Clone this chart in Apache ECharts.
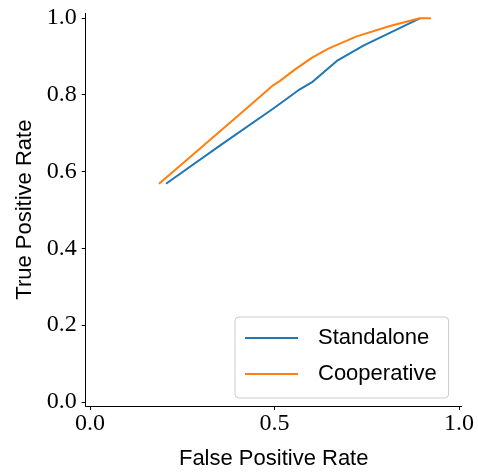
<!DOCTYPE html>
<html>
<head>
<meta charset="utf-8">
<script src="https://cdn.jsdelivr.net/npm/echarts@6/dist/echarts.min.js"></script>
<style>
html,body{margin:0;padding:0;background:#fff;}
#chart{width:478px;height:475px;}
</style>
</head>
<body>
<div id="chart"></div>
<script>
var standaloneFpr = [0.206, 0.350, 0.497, 0.564, 0.601, 0.669, 0.741, 0.894];
var standaloneTpr = [0.568, 0.666, 0.764, 0.811, 0.832, 0.888, 0.928, 0.999];
var cooperativeFpr = [0.187, 0.262, 0.343, 0.420, 0.497, 0.515, 0.556, 0.601, 0.646, 0.723, 0.813, 0.894, 0.924];
var cooperativeTpr = [0.568, 0.630, 0.697, 0.761, 0.825, 0.836, 0.866, 0.896, 0.920, 0.952, 0.979, 0.999, 0.999];
var xTicks = [0, 0.5, 1.0];
var yTicks = [0, 0.2, 0.4, 0.6, 0.8, 1.0];
var seriesNames = ['Standalone', 'Cooperative'];

function zip(a, b) { return a.map(function (v, i) { return [v, b[i]]; }); }

var chart = echarts.init(document.getElementById('chart'));
var serifFont = '"Liberation Serif", serif';
var sansFont = '"Liberation Sans", sans-serif';

chart.setOption({
  animation: false,
  backgroundColor: '#ffffff',
  grid: { left: 85.7, right: 16.3, top: 13.3, bottom: 63.3 },
  xAxis: {
    type: 'value',
    min: -0.0117,
    max: 1.0075,
    name: 'False Positive Rate',
    nameLocation: 'middle',
    nameGap: 42,
    nameTextStyle: { fontFamily: sansFont, fontSize: 22, color: '#000' },
    axisLine: { show: true, onZero: false, lineStyle: { color: '#000', width: 1 } },
    axisTick: { show: true, length: 4, customValues: xTicks, lineStyle: { color: '#000', width: 1 } },
    axisLabel: {
      customValues: xTicks, margin: 6,
      fontFamily: serifFont, fontSize: 24, color: '#000',
      formatter: function (v) { return v.toFixed(1); }
    },
    splitLine: { show: false }
  },
  yAxis: {
    type: 'value',
    min: -0.011,
    max: 1.012,
    name: 'True Positive Rate',
    nameLocation: 'middle',
    nameGap: 50,
    nameRotate: 90,
    nameTextStyle: { fontFamily: sansFont, fontSize: 22, color: '#000' },
    axisLine: { show: true, onZero: false, lineStyle: { color: '#000', width: 1 } },
    axisTick: { show: true, length: 4, customValues: yTicks, lineStyle: { color: '#000', width: 1 } },
    axisLabel: {
      customValues: yTicks, margin: 9,
      fontFamily: serifFont, fontSize: 24, color: '#000',
      formatter: function (v) { return v.toFixed(1); }
    },
    splitLine: { show: false }
  },
  legend: {
    orient: 'vertical',
    left: 235,
    top: 317,
    padding: [10, 12, 13, 10],
    itemGap: 14,
    itemWidth: 53,
    itemHeight: 2,
    icon: 'rect',
    backgroundColor: 'rgba(255,255,255,0.8)',
    borderColor: '#cccccc',
    borderWidth: 1,
    borderRadius: 4,
    textStyle: { fontFamily: sansFont, fontSize: 22, color: '#000', padding: [0, 0, 0, 15] },
    data: seriesNames
  },
  series: [
    {
      name: seriesNames[0],
      type: 'line',
      data: zip(standaloneFpr, standaloneTpr),
      symbol: 'none',
      color: '#1f77b4',
      lineStyle: { color: '#1f77b4', width: 2 }
    },
    {
      name: seriesNames[1],
      type: 'line',
      data: zip(cooperativeFpr, cooperativeTpr),
      symbol: 'none',
      color: '#ff7f0e',
      lineStyle: { color: '#ff7f0e', width: 2 }
    }
  ]
});
</script>
</body>
</html>
